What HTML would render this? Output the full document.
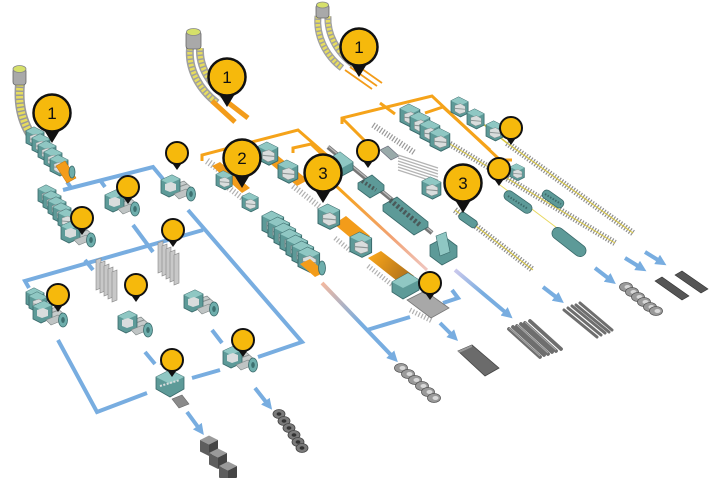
<!DOCTYPE html>
<html><head><meta charset="utf-8">
<style>html,body{margin:0;padding:0;background:#fff;}svg{display:block}</style></head>
<body>
<svg width="718" height="478" viewBox="0 0 718 478" xmlns="http://www.w3.org/2000/svg">
<defs>
 <marker id="ah" viewBox="0 0 10 10" refX="1" refY="5" markerUnits="userSpaceOnUse" markerWidth="11" markerHeight="11" orient="auto"><path d="M0,0 L10,5 L0,10 z" fill="#78ade0"/></marker>
 <linearGradient id="g1" gradientUnits="userSpaceOnUse" x1="322" y1="283" x2="360" y2="323"><stop offset="0" stop-color="#f3b9a0"/><stop offset="1" stop-color="#78ade0"/></linearGradient>
 <linearGradient id="g2" gradientUnits="userSpaceOnUse" x1="340" y1="190" x2="427" y2="270"><stop offset="0" stop-color="#f5a31a"/><stop offset=".6" stop-color="#f2a274"/><stop offset="1" stop-color="#efc6c0"/></linearGradient>
 <linearGradient id="g3" gradientUnits="userSpaceOnUse" x1="455" y1="270" x2="482" y2="294"><stop offset="0" stop-color="#cbc8ec"/><stop offset="1" stop-color="#78ade0"/></linearGradient>
 <linearGradient id="g4" gradientUnits="userSpaceOnUse" x1="372" y1="256" x2="410" y2="282"><stop offset="0" stop-color="#f5a31a"/><stop offset="1" stop-color="#a86c1c"/></linearGradient>
 <g id="pb"><polygon points="-11,12 11,12 0,30" fill="#111"/><circle r="18.5" fill="#f6b90c" stroke="#111" stroke-width="2.5"/></g>
 <g id="ps"><polygon points="-7,7 7,7 0,17" fill="#111"/><circle r="11" fill="#f6b90c" stroke="#111" stroke-width="2"/></g>
 <g id="st">
  <polygon points="0,5 8,1 18,6 18,18 10,22 0,17" fill="#5d9a98" stroke="#39696a" stroke-width="0.8"/>
  <polygon points="0,5 8,1 18,6 10,10" fill="#8fc7c3"/>
  <polygon points="4,10 10,8 15,11 15,17 9,19 4,16" fill="#d9dddd" stroke="#7f8a8a" stroke-width=".5"/>
  <line x1="4" y1="13" x2="15" y2="14" stroke="#8e9696" stroke-width="1"/>
 </g>
 <g id="mc">
  <polygon points="10,14 24,9 33,17 19,23" fill="#c6cbcb" stroke="#7d8585" stroke-width=".7"/>
  <line x1="13" y1="17" x2="27" y2="12" stroke="#8a9090"/>
  <polygon points="1,8 12,3 20,7 20,20 9,25 1,21" fill="#5d9a98" stroke="#39696a" stroke-width=".8"/>
  <polygon points="1,8 12,3 20,7 9,12" fill="#8fc7c3"/>
  <polygon points="5,12 11,10 16,12 16,18 10,20 5,18" fill="#d9dddd"/>
  <polygon points="14,22 26,17 31,22 19,27" fill="#bfc4c4" stroke="#7d8585" stroke-width=".6"/>
  <ellipse cx="31" cy="22" rx="4.5" ry="7" fill="#6eaeac" stroke="#39696a" stroke-width=".8"/>
  <ellipse cx="31" cy="22" rx="1.8" ry="3" fill="#3d7070"/>
 </g>
 <g id="coil"><ellipse rx="6" ry="4.5" fill="#7a7a7a" stroke="#444" stroke-width=".8"/><ellipse rx="2.4" ry="1.8" fill="#333"/></g>
 <g id="ccoil"><ellipse rx="6.5" ry="4.5" fill="#9a9a9a" stroke="#555" stroke-width=".8"/><ellipse cx="1.5" rx="3" ry="2" fill="#d8d8d8"/></g>
 <g id="cube"><polygon points="0,0 9,-4.5 18,0 9,4.5" fill="#9a9a9a"/><polygon points="0,0 9,4.5 9,16 0,11.5" fill="#5e5e5e"/><polygon points="9,4.5 18,0 18,11.5 9,16" fill="#454545"/></g>
 <g id="plate"><polygon points="0,2 5,0 5,30 0,32" fill="#c8c8c8" stroke="#888" stroke-width=".6"/></g>
</defs>

<!-- BLUE LINES -->
<g stroke="#78ade0" stroke-width="4" fill="none">
 <polyline points="63,190 153,167 163,179"/>
 <line x1="67" y1="182" x2="72" y2="189"/>
 <line x1="100" y1="180" x2="105" y2="187"/>
 <polyline points="188,210 302,342 258,357"/>
 <line x1="133" y1="225" x2="153" y2="252"/>
 <polyline points="203,230 25,281 29,288"/>
 <line x1="85" y1="260" x2="93" y2="270"/>
 <polyline points="58,340 97,412 147,393"/>
 <line x1="145" y1="352" x2="155" y2="364"/>
 <line x1="192" y1="378" x2="220" y2="370"/>
 <line x1="212" y1="330" x2="222" y2="343"/>
 <line x1="187" y1="412" x2="198" y2="427" marker-end="url(#ah)"/>
 <line x1="255" y1="388" x2="266" y2="402" marker-end="url(#ah)"/>
 <line x1="367" y1="330" x2="410" y2="317"/>
 <polyline points="452,290 458,298 443,303"/>
 <line x1="440" y1="323" x2="451" y2="334" marker-end="url(#ah)"/>
 <line x1="543" y1="287" x2="556" y2="297" marker-end="url(#ah)"/>
 <line x1="595" y1="268" x2="608" y2="278" marker-end="url(#ah)"/>
 <line x1="625" y1="258" x2="638" y2="266" marker-end="url(#ah)"/>
 <line x1="645" y1="252" x2="658" y2="260" marker-end="url(#ah)"/>
 <line x1="322" y1="283" x2="391" y2="355" stroke="url(#g1)" marker-end="url(#ah)"/>
 <line x1="455" y1="270" x2="505" y2="312" stroke="url(#g3)" marker-end="url(#ah)"/>
</g>

<!-- ORANGE LINES -->
<g stroke="#f5a31a" stroke-width="3" fill="none">
 <polyline points="202,161 202,155 298,130 330,158"/>
 <polyline points="293,153 293,148 311,144 330,162"/>
 <polyline points="342,124 342,118 432,96 500,160 512,160"/>
 <line x1="342" y1="118" x2="372" y2="148"/>
 <line x1="380" y1="103" x2="395" y2="114"/>
 <polyline points="425,113 443,107 490,150"/>
 <line x1="335" y1="185" x2="427" y2="270" stroke="url(#g2)"/>
</g>

<!-- LADLES / STRANDS -->
<g>
 <path d="M20,84 C18,105 22,125 36,142" stroke="#9a9a9a" stroke-width="10" fill="none"/>
 <path d="M20,84 C18,105 22,125 36,142" stroke="#e6dc5e" stroke-width="7" fill="none" stroke-dasharray="2.5 1.5"/>
 <rect x="13" y="68" width="13" height="17" rx="3" fill="#a9a9a9" stroke="#666" stroke-width=".8"/>
 <ellipse cx="19.5" cy="69" rx="6.5" ry="3.5" fill="#d6e06a" stroke="#888" stroke-width=".8"/>

 <path d="M190,48 C188,70 200,90 217,103" stroke="#a0a0a0" stroke-width="8" fill="none"/>
 <path d="M190,48 C188,70 200,90 217,103" stroke="#e6dc5e" stroke-width="5" fill="none" stroke-dasharray="2.5 1.5"/>
 <path d="M200,48 C199,68 210,85 230,100" stroke="#a0a0a0" stroke-width="8" fill="none"/>
 <path d="M200,48 C199,68 210,85 230,100" stroke="#e6dc5e" stroke-width="5" fill="none" stroke-dasharray="2.5 1.5"/>
 <rect x="186" y="31" width="15" height="18" rx="3" fill="#a9a9a9" stroke="#666" stroke-width=".8"/>
 <ellipse cx="193.5" cy="32" rx="7" ry="3.5" fill="#d6e06a" stroke="#888" stroke-width=".8"/>
 <line x1="212" y1="101" x2="235" y2="122" stroke="#f39c1a" stroke-width="5"/>
 <line x1="226" y1="101" x2="248" y2="118" stroke="#f39c1a" stroke-width="5"/>

 <path d="M318,16 C316,35 325,55 342,68" stroke="#a0a0a0" stroke-width="7" fill="none"/>
 <path d="M318,16 C316,35 325,55 342,68" stroke="#e6dc5e" stroke-width="4.5" fill="none" stroke-dasharray="2.5 1.5"/>
 <path d="M328,16 C327,33 336,52 354,65" stroke="#a0a0a0" stroke-width="7" fill="none"/>
 <path d="M328,16 C327,33 336,52 354,65" stroke="#e6dc5e" stroke-width="4.5" fill="none" stroke-dasharray="2.5 1.5"/>
 <rect x="316" y="4" width="13" height="14" rx="3" fill="#a9a9a9" stroke="#666" stroke-width=".8"/>
 <ellipse cx="322.5" cy="5" rx="6" ry="3" fill="#d6e06a" stroke="#888" stroke-width=".8"/>
 <g stroke="#f39c1a" stroke-width="1.8"><line x1="345" y1="70" x2="372" y2="89"/><line x1="350" y1="67" x2="377" y2="86"/><line x1="355" y1="64" x2="382" y2="83"/></g>
</g>

<!-- LEFT MACHINES -->
<g>
 <use href="#st" transform="translate(26,126)"/>
 <use href="#st" transform="translate(32,133)"/>
 <use href="#st" transform="translate(38,140)"/>
 <use href="#st" transform="translate(44,147)"/>
 <use href="#st" transform="translate(50,154)"/>
 <polygon points="56,166 65,161 76,178 67,183" fill="#f39c1a" stroke="#c87a10" stroke-width=".6"/>
 <ellipse cx="72" cy="172" rx="3" ry="6" fill="#6eaeac" stroke="#39696a" stroke-width=".8"/>

 <use href="#st" transform="translate(38,184)"/>
 <use href="#st" transform="translate(43,190)"/>
 <use href="#st" transform="translate(48,196)"/>
 <use href="#st" transform="translate(53,202)"/>
 <use href="#st" transform="translate(58,208)"/>
 <use href="#mc" transform="translate(60,218)"/>

 <use href="#mc" transform="translate(104,187)"/>
 <use href="#mc" transform="translate(160,172)"/>

 <use href="#st" transform="translate(26,287)"/>
 <use href="#st" transform="translate(29,291)"/>
 <use href="#mc" transform="translate(32,298)"/>

 <use href="#plate" transform="translate(96,258)"/>
 <use href="#plate" transform="translate(100,261)"/>
 <use href="#plate" transform="translate(104,264)"/>
 <use href="#plate" transform="translate(108,267)"/>
 <use href="#plate" transform="translate(112,270)"/>
 <use href="#mc" transform="translate(117,308)"/>

 <use href="#plate" transform="translate(158,241)"/>
 <use href="#plate" transform="translate(162,244)"/>
 <use href="#plate" transform="translate(166,247)"/>
 <use href="#plate" transform="translate(170,250)"/>
 <use href="#plate" transform="translate(174,253)"/>
 <use href="#mc" transform="translate(183,287)"/>

 <use href="#mc" transform="translate(222,343)"/>

 <polygon points="160,364 172,359 178,363 166,368" fill="#bfc4c4" stroke="#7d8585" stroke-width=".6"/>
 <polygon points="156,377 170,370 184,377 184,389 170,397 156,389" fill="#5d9a98" stroke="#39696a" stroke-width=".8"/>
 <polygon points="156,377 170,370 184,377 170,384" fill="#8fc7c3"/>
 <line x1="160" y1="386" x2="180" y2="380" stroke="#d9dddd" stroke-width="2" stroke-dasharray="2 1.5"/>
 <polygon points="172,399 182,395 189,404 179,408" fill="#8a8a8a" stroke="#666" stroke-width=".6"/>
</g>

<!-- MIDDLE MACHINES -->
<g>
 <line x1="207" y1="161" x2="230" y2="177" stroke="#b0b0b0" stroke-width="7" stroke-dasharray="1.2 2"/>
 <polygon points="212,166 220,162 250,188 242,193" fill="#f39c1a"/>
 <line x1="218" y1="180" x2="245" y2="200" stroke="#b0b0b0" stroke-width="6" stroke-dasharray="1.2 2"/>
 <use href="#st" transform="translate(216,170) scale(.9)"/>
 <use href="#st" transform="translate(242,192) scale(.9)"/>
 <polygon points="266,160 277,155 308,180 297,186" fill="#f39c1a"/>
 <use href="#st" transform="translate(258,141) scale(1.1)"/>
 <use href="#st" transform="translate(278,159) scale(1.1)"/>
 <line x1="293" y1="186" x2="320" y2="207" stroke="#b0b0b0" stroke-width="6" stroke-dasharray="1.2 2"/>

 <use href="#st" transform="translate(262,210) scale(1.2)"/>
 <use href="#st" transform="translate(268,216) scale(1.2)"/>
 <use href="#st" transform="translate(274,222) scale(1.2)"/>
 <use href="#st" transform="translate(280,228) scale(1.2)"/>
 <use href="#st" transform="translate(286,234) scale(1.2)"/>
 <use href="#st" transform="translate(292,240) scale(1.2)"/>
 <use href="#st" transform="translate(298,246) scale(1.2)"/>
 <polygon points="300,264 310,259 325,272 315,277" fill="#f39c1a"/>
 <ellipse cx="322" cy="268" rx="3.5" ry="7" fill="#6eaeac" stroke="#39696a" stroke-width=".8"/>

 <polygon points="334,224 346,216 370,236 358,244" fill="#f39c1a"/>
 <use href="#st" transform="translate(318,203) scale(1.2)"/>
 <line x1="335" y1="238" x2="352" y2="252" stroke="#b0b0b0" stroke-width="5" stroke-dasharray="1.2 2"/>
 <polygon points="368,258 381,251 414,276 401,284" fill="url(#g4)"/>
 <use href="#st" transform="translate(350,231) scale(1.2)"/>
 <line x1="368" y1="266" x2="400" y2="291" stroke="#b0b0b0" stroke-width="5" stroke-dasharray="1.2 2"/>
 <polygon points="392,282 408,273 419,280 419,290 403,299 392,292" fill="#5d9a98" stroke="#39696a" stroke-width=".8"/>
 <polygon points="392,282 408,273 419,280 403,288" fill="#8fc7c3"/>
 <line x1="410" y1="310" x2="432" y2="321" stroke="#b0b0b0" stroke-width="5" stroke-dasharray="1.2 2"/>
 <polygon points="407,300 425,291 449,308 431,318" fill="#a8a8a8" stroke="#777" stroke-width=".8"/>

 <line x1="328" y1="147" x2="432" y2="233" stroke="#777" stroke-width="4.5"/>
 <line x1="328" y1="146" x2="432" y2="232" stroke="#b9b9b9" stroke-width="1.4"/>
 <polygon points="327,160 340,152 353,162 353,170 340,177 327,168" fill="#5d9a98" stroke="#39696a" stroke-width=".8"/>
 <polygon points="327,160 340,152 353,162 340,169" fill="#8fc7c3"/>
 <polygon points="380,150 388,146 399,156 391,160" fill="#9aa" stroke="#667" stroke-width=".6"/>
 <polygon points="358,183 372,175 384,185 384,190 370,198 358,189" fill="#5d9a98" stroke="#39696a" stroke-width=".8"/>
 <line x1="362" y1="181" x2="376" y2="190" stroke="#4a5a5a" stroke-width="4" stroke-dasharray="2 2"/>
 <polygon points="383,205 397,197 428,222 428,227 414,235 383,211" fill="#5d9a98" stroke="#39696a" stroke-width=".8"/>
 <line x1="390" y1="200" x2="420" y2="225" stroke="#4a5a5a" stroke-width="5" stroke-dasharray="2.5 2"/>
 <polygon points="430,245 445,237 457,246 457,257 442,265 430,256" fill="#5d9a98" stroke="#39696a" stroke-width=".8"/>
 <polygon points="436,236 446,232 450,252 440,256" fill="#8fc7c3" stroke="#39696a" stroke-width=".6"/>
</g>

<!-- UPPER RIGHT -->
<g>
 <line x1="373" y1="125" x2="415" y2="153" stroke="#999" stroke-width="6" stroke-dasharray="1.2 1.8"/>
 <g stroke="#b4b4b4" stroke-width="1.3">
  <line x1="398" y1="155" x2="438" y2="168"/><line x1="398" y1="158" x2="438" y2="171"/><line x1="398" y1="161" x2="438" y2="174"/><line x1="398" y1="164" x2="438" y2="177"/><line x1="398" y1="167" x2="438" y2="180"/><line x1="398" y1="170" x2="438" y2="183"/>
 </g>
 <line x1="507" y1="143" x2="633" y2="233" stroke="#8e8e8e" stroke-width="6.5" stroke-dasharray="1.2 1.7"/>
 <line x1="507" y1="143" x2="633" y2="233" stroke="#d9c73a" stroke-width="1"/>
 <line x1="440" y1="138" x2="615" y2="243" stroke="#8e8e8e" stroke-width="6.5" stroke-dasharray="1.2 1.7"/>
 <line x1="440" y1="138" x2="615" y2="243" stroke="#d9c73a" stroke-width="1"/>
 <line x1="455" y1="210" x2="533" y2="270" stroke="#8e8e8e" stroke-width="6.5" stroke-dasharray="1.2 1.7"/>
 <line x1="455" y1="210" x2="533" y2="270" stroke="#d9c73a" stroke-width="1"/>
 <line x1="500" y1="185" x2="557" y2="228" stroke="#e8d860" stroke-width="1"/>
 <line x1="453" y1="100" x2="507" y2="143" stroke="#d9c73a" stroke-width="1.5"/>

 <use href="#st" transform="translate(400,103) scale(1.1)"/>
 <use href="#st" transform="translate(410,111) scale(1.1)"/>
 <use href="#st" transform="translate(420,119) scale(1.1)"/>
 <use href="#st" transform="translate(430,127) scale(1.1)"/>
 <use href="#st" transform="translate(451,96) scale(.95)"/>
 <use href="#st" transform="translate(467,108) scale(.95)"/>
 <use href="#st" transform="translate(486,120) scale(.95)"/>
 <use href="#st" transform="translate(422,176) scale(1.05)"/>
 <use href="#st" transform="translate(510,163) scale(.8)"/>
 <g fill="#5d9a98" stroke="#39696a" stroke-width=".8">
  <rect x="-10" y="-4" width="20" height="8" rx="3" transform="translate(468,220) rotate(35)"/>
  <rect x="-16" y="-5" width="32" height="10" rx="5" transform="translate(518,202) rotate(35)"/>
  <rect x="-12" y="-4.5" width="24" height="9" rx="4" transform="translate(553,199) rotate(35)"/>
  <rect x="-20" y="-6" width="40" height="12" rx="6" transform="translate(569,242) rotate(38)"/>
 </g>
 <g stroke="#3d6a6a" stroke-width="2" stroke-dasharray="1.5 1.5">
  <line x1="508" y1="196" x2="528" y2="209"/><line x1="545" y1="194" x2="561" y2="204"/>
 </g>
</g>

<!-- PRODUCTS -->
<g>
 <use href="#cube" transform="translate(200,440)"/>
 <use href="#cube" transform="translate(209,453)"/>
 <use href="#cube" transform="translate(219,466)"/>
 <use href="#coil" transform="translate(279,414)"/>
 <use href="#coil" transform="translate(284,421)"/>
 <use href="#coil" transform="translate(289,428)"/>
 <use href="#coil" transform="translate(294,435)"/>
 <use href="#coil" transform="translate(298,442)"/>
 <use href="#coil" transform="translate(302,448)"/>
 <use href="#ccoil" transform="translate(401,368)"/>
 <use href="#ccoil" transform="translate(408,374)"/>
 <use href="#ccoil" transform="translate(415,380)"/>
 <use href="#ccoil" transform="translate(422,386)"/>
 <use href="#ccoil" transform="translate(428,392)"/>
 <use href="#ccoil" transform="translate(434,398)"/>
 <use href="#ccoil" transform="translate(626,287)"/>
 <use href="#ccoil" transform="translate(632,292)"/>
 <use href="#ccoil" transform="translate(638,297)"/>
 <use href="#ccoil" transform="translate(644,302)"/>
 <use href="#ccoil" transform="translate(650,307)"/>
 <use href="#ccoil" transform="translate(656,311)"/>
 <polygon points="458,351 472,345 499,368 485,376" fill="#6b6b6b" stroke="#444" stroke-width=".8"/>
 <polygon points="458,351 472,345 472,347 459,353" fill="#999"/>
 <g stroke="#6e6e6e" stroke-width="3.8" stroke-linecap="round">
  <line x1="509" y1="329" x2="540" y2="357"/><line x1="513" y1="327" x2="544" y2="355"/><line x1="517" y1="326" x2="548" y2="354"/><line x1="521" y1="324" x2="552" y2="352"/><line x1="525" y1="323" x2="556" y2="351"/><line x1="530" y1="321" x2="561" y2="349"/>
  <line x1="564" y1="310" x2="597" y2="337" stroke-width="3"/><line x1="568" y1="308" x2="601" y2="335" stroke-width="3"/><line x1="572" y1="306" x2="605" y2="333" stroke-width="3"/><line x1="576" y1="305" x2="609" y2="332" stroke-width="3"/><line x1="580" y1="303" x2="612" y2="330" stroke-width="3"/>
 </g>
 <g stroke="#a8a8a8" stroke-width="1">
  <line x1="509" y1="328" x2="540" y2="356"/><line x1="517" y1="325" x2="548" y2="353"/><line x1="525" y1="322" x2="556" y2="350"/>
 </g>
 <polygon points="655,281 662,277 689,296 682,300" fill="#555" stroke="#333" stroke-width=".6"/>
 <polygon points="675,275 682,271 708,289 701,293" fill="#555" stroke="#333" stroke-width=".6"/>
</g>

<!-- PINS -->
<g>
 <use href="#pb" transform="translate(52,113)"/>
 <use href="#pb" transform="translate(227,77)"/>
 <use href="#pb" transform="translate(359,47)"/>
 <use href="#pb" transform="translate(242,158)"/>
 <use href="#pb" transform="translate(323,173)"/>
 <use href="#pb" transform="translate(463,183)"/>
 <use href="#ps" transform="translate(177,153)"/>
 <use href="#ps" transform="translate(128,187)"/>
 <use href="#ps" transform="translate(82,218)"/>
 <use href="#ps" transform="translate(173,230)"/>
 <use href="#ps" transform="translate(58,295)"/>
 <use href="#ps" transform="translate(136,285)"/>
 <use href="#ps" transform="translate(243,340)"/>
 <use href="#ps" transform="translate(172,360)"/>
 <use href="#ps" transform="translate(368,151)"/>
 <use href="#ps" transform="translate(430,283)"/>
 <use href="#ps" transform="translate(511,128)"/>
 <use href="#ps" transform="translate(499,169)"/>
</g>
<g font-family="Liberation Sans, sans-serif" font-size="17" fill="#111" text-anchor="middle">
 <text x="52" y="119">1</text>
 <text x="227" y="83">1</text>
 <text x="359" y="53">1</text>
 <text x="242" y="164">2</text>
 <text x="323" y="179">3</text>
 <text x="463" y="189">3</text>
</g>
</svg>
</body></html>
